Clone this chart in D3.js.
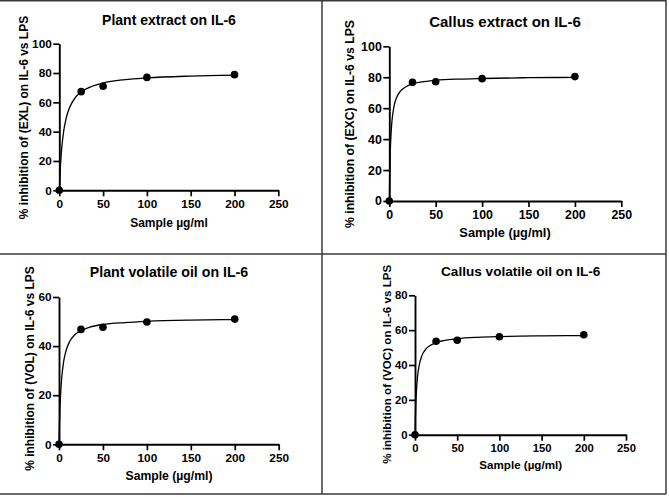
<!DOCTYPE html>
<html lang="en">

<head>
    <script src='https://d3js.org/d3.v7.min.js'></script>
    <style>
        body { margin: 0; background: #fff; }
        text { font-family: "Liberation Sans", Arial, sans-serif; font-weight: bold; fill: #000; }
    </style>
</head>

<body>
    <script>
        // doses shared by every panel
        const doses = [0, 25, 50, 100, 200];
        const xTicks = [0, 50, 100, 150, 200, 250];

        // measured points (% inhibition)
        const plantExtract = [0, 67.3, 71.0, 77.0, 78.9];
        const callusExtract = [0, 76.7, 77.1, 79.1, 80.4];
        const plantOil = [0, 46.8, 47.7, 49.8, 51.0];
        const callusOil = [0, 53.6, 54.2, 56.2, 57.4];

        // fitted curves
        const curveX = [0, 0.5, 1, 2, 3, 5, 8, 12, 18, 25, 35, 50, 75, 100, 150, 200];
        const plantExtractFit = [0, 7.3, 13.4, 23.0, 30.2, 40.3, 49.5, 56.8, 63.0, 67.1, 70.4, 73.2, 75.5, 76.7, 77.9, 78.5];
        const callusExtractFit = [0, 19.2, 31.0, 44.7, 52.5, 61.0, 67.1, 71.0, 73.9, 75.7, 77.0, 78.0, 78.8, 79.2, 79.7, 79.9];
        const plantOilFit = [0, 7.8, 13.6, 21.5, 26.6, 33.0, 38.1, 41.8, 44.6, 46.3, 47.7, 48.8, 49.6, 50.1, 50.6, 50.8];
        const callusOilFit = [0, 10.6, 18.0, 27.4, 33.2, 39.9, 45.1, 48.6, 51.2, 52.9, 54.1, 55.1, 55.9, 56.3, 56.7, 56.9];

        const titles = ["Plant extract on IL-6", "Callus extract on IL-6", "Plant volatile oil on IL-6", "Callus volatile oil on IL-6"];
        const yLabels = ["% inhibition of (EXL) on IL-6 vs LPS", "% inhibition of (EXC) on IL-6 vs LPS",
            "% inhibition of (VOL) on IL-6 vs LPS", "% inhibition of (VOC) on IL-6 vs LPS"];
        const xLabels = ["Sample µg/ml", "Sample (µg/ml)", "Sample (µg/ml)", "Sample (µg/ml)"];
        const yTickSets = [[0, 20, 40, 60, 80, 100], [0, 20, 40, 60, 80, 100], [0, 20, 40, 60], [0, 20, 40, 60, 80]];

        const W = 669, H = 497;
        const svg = d3.select("body").append("svg")
            .attr("width", W).attr("height", H);

        // frame lines of the figure
        const frame = svg.append("g").attr("stroke", "#3a3a3a").attr("stroke-width", 1.5);
        frame.append("line").attr("x1", 0).attr("x2", 666).attr("y1", 0.75).attr("y2", 0.75);
        frame.append("line").attr("x1", 0).attr("x2", 666).attr("y1", 254).attr("y2", 254);
        frame.append("line").attr("x1", 0).attr("x2", 666).attr("y1", 494).attr("y2", 494);
        frame.append("line").attr("x1", 322).attr("x2", 322).attr("y1", 0).attr("y2", 494);
        frame.append("line").attr("x1", 666).attr("x2", 666).attr("y1", 0).attr("y2", 494);

        // per-panel layout (pixels)
        const layout = [
            { x0: 59.3, x1: 278.3, y0: 190.3, y1: 43.7, tx: 169, ty: 25.3, ts: 14, lx: 169, ly: 226.5, ls: 12, yx: 27.5, yy: 117.5, ys: 12, fs: 11.8 },
            { x0: 389.3, x1: 621.3, y0: 201, y1: 46.3, tx: 505, ty: 26.5, ts: 15, lx: 505, ly: 237, ls: 12.8, yx: 354, yy: 124, ys: 12.2, fs: 12.4 },
            { x0: 59, x1: 278.7, y0: 444.3, y1: 297, tx: 169, ty: 277.3, ts: 14.2, lx: 169, ly: 479.5, ls: 12.2, yx: 33.5, yy: 368.5, ys: 12, fs: 11.8 },
            { x0: 415, x1: 626, y0: 434.7, y1: 295.3, tx: 520.7, ty: 276.3, ts: 13.6, lx: 520.7, ly: 469, ls: 11.6, yx: 391, yy: 364.3, ys: 11.6, fs: 11.3 }
        ];

        const pointSets = [plantExtract, callusExtract, plantOil, callusOil];
        const fitSets = [plantExtractFit, callusExtractFit, plantOilFit, callusOilFit];

        function drawPanel(i) {
            const L = layout[i];
            const yTicks = yTickSets[i];
            const x = d3.scaleLinear().domain([0, 250]).range([L.x0, L.x1]);
            const y = d3.scaleLinear().domain([0, d3.max(yTicks)]).range([L.y0, L.y1]);
            const g = svg.append("g");

            // x axis
            const xa = g.append("g")
                .attr("transform", "translate(0," + L.y0 + ")")
                .call(d3.axisBottom(x).tickValues(xTicks).tickSize(6).tickSizeOuter(0).tickPadding(3.5));
            // y axis
            const ya = g.append("g")
                .attr("transform", "translate(" + L.x0 + ",0)")
                .call(d3.axisLeft(y).tickValues(yTicks).tickSize(6).tickSizeOuter(0).tickPadding(1.5));
            [xa, ya].forEach(a => {
                a.selectAll("path").attr("stroke", "#000").attr("stroke-width", 1.9);
                a.selectAll("line").attr("stroke", "#000").attr("stroke-width", 1.7);
                a.selectAll("text").style("font-size", L.fs + "px").attr("font-family", null);
            });

            // fitted curve
            const fit = curveX.map((d, k) => ({ x: d, y: fitSets[i][k] }));
            g.append("path")
                .datum(fit)
                .attr("fill", "none")
                .attr("stroke", "#000")
                .attr("stroke-width", 1.3)
                .attr("d", d3.line()
                    .x(d => x(d.x))
                    .y(d => y(d.y))
                    .curve(d3.curveMonotoneX));

            // points
            g.selectAll("circle")
                .data(doses.map((d, k) => ({ x: d, y: pointSets[i][k] })))
                .enter()
                .append("circle")
                .attr("cx", d => x(d.x))
                .attr("cy", d => y(d.y))
                .attr("r", 3.8)
                .attr("fill", "#000");

            // titles and labels
            g.append("text")
                .attr("x", L.tx).attr("y", L.ty)
                .attr("text-anchor", "middle")
                .style("font-size", L.ts + "px")
                .text(titles[i]);
            g.append("text")
                .attr("x", L.lx).attr("y", L.ly)
                .attr("text-anchor", "middle")
                .style("font-size", L.ls + "px")
                .text(xLabels[i]);
            g.append("text")
                .attr("transform", "translate(" + L.yx + "," + L.yy + ") rotate(-90)")
                .attr("text-anchor", "middle")
                .style("font-size", L.ys + "px")
                .text(yLabels[i]);
        }

        for (let i = 0; i < 4; i++) drawPanel(i);
    </script>

</body>

</html>
